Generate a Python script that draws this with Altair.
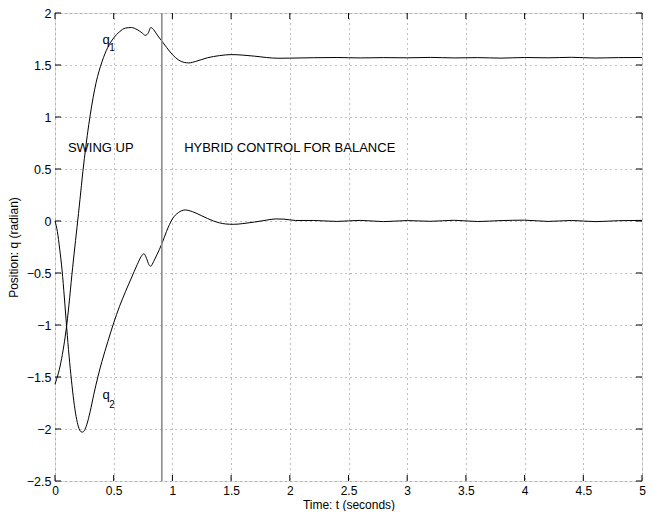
import altair as alt
import pandas as pd

# ---- data ----
t_q1 = [0, 0.05, 0.1, 0.15, 0.2, 0.25, 0.3, 0.35, 0.4, 0.45, 0.5, 0.55, 0.6, 0.65, 0.7,
        0.74, 0.77, 0.795, 0.815, 0.84, 0.87, 0.91, 0.95, 1.0, 1.05, 1.1, 1.14, 1.2, 1.3,
        1.4, 1.5, 1.6, 1.7, 1.8, 1.9, 2.0, 2.2, 2.4, 2.6, 2.8, 3.0, 3.2, 3.4, 3.6, 3.8,
        4.0, 4.2, 4.4, 4.6, 4.8, 5.0]
q1 = [-1.57, -1.36, -1.0, -0.45, 0.07, 0.6, 1.02, 1.33, 1.53, 1.67, 1.76, 1.82, 1.855, 1.86, 1.84,
      1.81, 1.785, 1.81, 1.86, 1.84, 1.79, 1.73, 1.67, 1.6, 1.55, 1.525, 1.52, 1.535, 1.57,
      1.59, 1.6, 1.595, 1.585, 1.572, 1.565, 1.566, 1.57, 1.572, 1.568, 1.571, 1.569, 1.573, 1.568, 1.571, 1.566,
      1.572, 1.569, 1.574, 1.567, 1.571, 1.572]

t_q2 = [0, 0.02, 0.04, 0.06, 0.08, 0.1, 0.12, 0.14, 0.16, 0.18, 0.2, 0.22, 0.235, 0.25, 0.27,
        0.3, 0.33, 0.365, 0.4, 0.45, 0.5, 0.55, 0.6, 0.65, 0.7, 0.735, 0.758, 0.78, 0.8,
        0.815, 0.84, 0.87, 0.91, 0.95, 1.0, 1.05, 1.11, 1.17, 1.25, 1.35, 1.45, 1.52, 1.6,
        1.7, 1.8, 1.88, 1.95, 2.05, 2.2, 2.4, 2.6, 2.8, 3.0, 3.2, 3.4, 3.6, 3.8, 4.0, 4.2,
        4.4, 4.6, 4.8, 5.0]
q2 = [0, -0.1, -0.27, -0.47, -0.74, -1.03, -1.3, -1.53, -1.73, -1.88, -1.98, -2.025, -2.03, -2.015, -1.96,
      -1.83, -1.67, -1.5, -1.35, -1.16, -0.98, -0.82, -0.68, -0.55, -0.42, -0.34, -0.315, -0.36, -0.42,
      -0.435, -0.39, -0.32, -0.22, -0.1, 0.02, 0.08, 0.106, 0.09, 0.05, 0.0, -0.028, -0.032, -0.025,
      -0.01, 0.008, 0.02, 0.018, 0.005, 0.005, -0.004, 0.006, -0.006, 0.004, -0.003, 0.007, -0.005, 0.004, 0.008, -0.004,
      0.005, -0.006, 0.003, 0.006]

x_ticks = [0, 0.5, 1, 1.5, 2, 2.5, 3, 3.5, 4, 4.5, 5]
y_ticks = [-2.5, -2, -1.5, -1, -0.5, 0, 0.5, 1, 1.5, 2]
switch_time = [0.91]

phase_text = ["SWING UP", "HYBRID CONTROL FOR BALANCE"]
phase_t = [0.11, 1.1]
phase_q = [0.70, 0.70]

sym_text = ["q", "q"]
sym_t = [0.405, 0.405]
sym_q = [1.70, -1.71]
sub_text = ["1", "2"]
sub_t = [0.463, 0.463]
sub_q = [1.63, -1.795]

# ---- chart ----
W, H = 587, 468
FONT = "Liberation Sans"
xs = alt.Scale(domain=[0, 5], nice=False, zero=False)
ys = alt.Scale(domain=[-2.5, 2], nice=False, zero=False)

df = pd.DataFrame({
    "t": t_q1 + t_q2,
    "q": q1 + q2,
    "s": ["q1"] * len(t_q1) + ["q2"] * len(t_q2),
})

x_axis = alt.Axis(values=x_ticks, format="~g", title="Time: t (seconds)", grid=True,
                  gridDash=[1, 4], gridColor="#808080", gridWidth=1, ticks=False, domain=False,
                  labelPadding=4, labelFontSize=12, titleFontSize=12, titleFontWeight="normal",
                  titleY=27, titleBaseline="alphabetic", labelFlush=False)
y_axis = alt.Axis(values=y_ticks, format="~g", title="Position: q (radian)", grid=True,
                  gridDash=[1, 4], gridColor="#808080", gridWidth=1, ticks=False, domain=False,
                  labelPadding=4, labelFontSize=12.5, titleFontSize=12, titleFontWeight="normal",
                  titleX=-42, titleY=H / 2, titleAngle=270, titleBaseline="middle", labelFlush=False)

X = alt.X("t:Q", scale=xs, title="Time: t (seconds)")
Y = alt.Y("q:Q", scale=ys, title="Position: q (radian)")

lines = alt.Chart(df).mark_line(color="black", strokeWidth=1, interpolate="monotone").encode(
    x=alt.X("t:Q", scale=xs, axis=x_axis),
    y=alt.Y("q:Q", scale=ys, axis=y_axis),
    detail="s:N",
)

vline = alt.Chart(pd.DataFrame({"t": switch_time})).mark_rule(color="#8c8c8c", strokeWidth=1.6).encode(
    x=X
)

xt = pd.DataFrame({"t": x_ticks})
yt = pd.DataFrame({"q": y_ticks})
tick_style = dict(color="black", strokeWidth=1)
xtick_bottom = alt.Chart(xt).mark_rule(**tick_style).encode(
    x=X, y=alt.value(H), y2=alt.value(H - 6))
xtick_top = alt.Chart(xt).mark_rule(**tick_style).encode(
    x=X, y=alt.value(0), y2=alt.value(6))
ytick_left = alt.Chart(yt).mark_rule(**tick_style).encode(
    y=Y, x=alt.value(0), x2=alt.value(6))
ytick_right = alt.Chart(yt).mark_rule(**tick_style).encode(
    y=Y, x=alt.value(W), x2=alt.value(W - 6))

phase = alt.Chart(pd.DataFrame({"t": phase_t, "q": phase_q, "txt": phase_text})).mark_text(
    align="left", baseline="middle", font=FONT, fontSize=13, color="black").encode(
    x=X, y=Y, text="txt:N")

sym = alt.Chart(pd.DataFrame({"t": sym_t, "q": sym_q, "txt": sym_text})).mark_text(
    align="left", baseline="alphabetic", font=FONT, fontSize=13, color="black").encode(
    x=X, y=Y, text="txt:N")

sub = alt.Chart(pd.DataFrame({"t": sub_t, "q": sub_q, "txt": sub_text})).mark_text(
    align="left", baseline="alphabetic", font=FONT, fontSize=10, color="black").encode(
    x=X, y=Y, text="txt:N")

chart = alt.layer(lines, vline, xtick_bottom, xtick_top, ytick_left, ytick_right, phase, sym, sub).properties(
    width=W, height=H,
    autosize=alt.AutoSizeParams(type="none"),
    padding={"left": 47, "top": 5, "right": 4, "bottom": 30},
).configure_view(stroke="black", strokeWidth=1).configure_axis(
    labelFont=FONT, titleFont=FONT, labelColor="black", titleColor="black",
    titleFontWeight="normal",
).configure(background="white")

chart.save("out.html", embed_options={"renderer": "svg", "actions": False})
